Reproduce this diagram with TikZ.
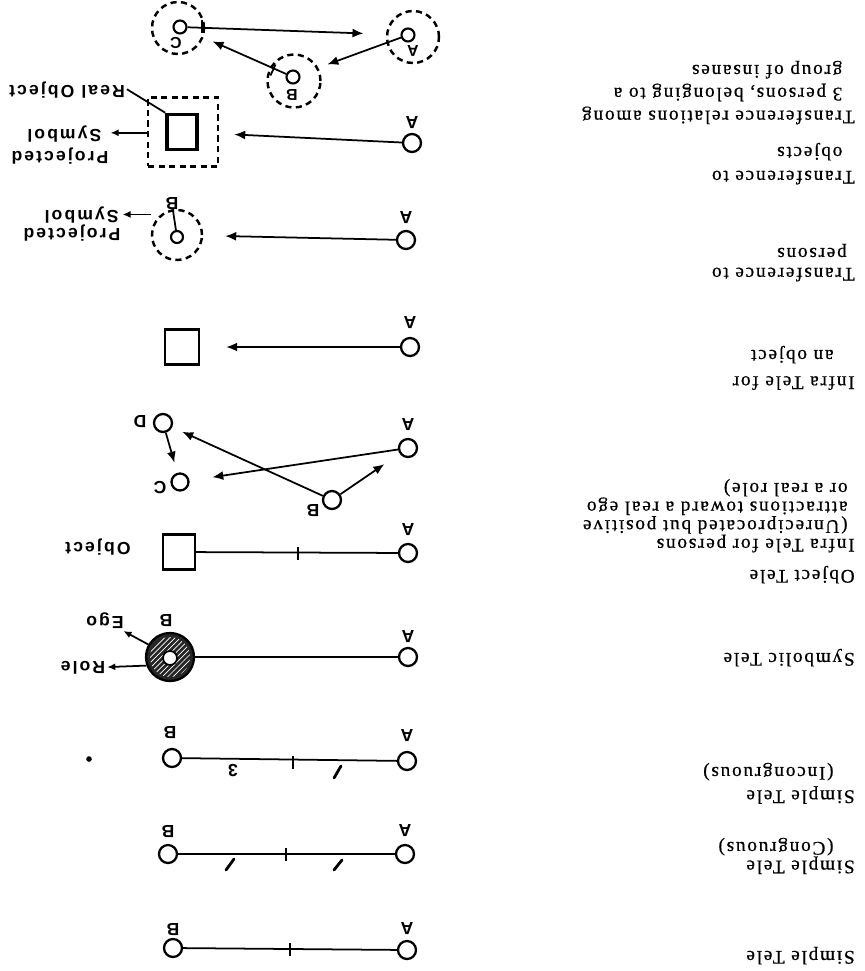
\documentclass[tikz,border=0pt]{standalone}
\usepackage{fontspec}
\usetikzlibrary{arrows.meta,patterns}
\newfontfamily\typeface[LetterSpace=9,FakeBold=0.6]{Liberation Serif}
\newfontfamily\handface[LetterSpace=12]{Liberation Sans}

\begin{document}
\begin{tikzpicture}[x=0.02cm,y=-0.02cm,
    person/.style={circle,draw,line width=1.3pt,minimum size=0.36cm,inner sep=0pt},
    inner/.style={circle,draw,line width=1.2pt,minimum size=0.26cm,inner sep=0pt},
    halo/.style={circle,draw,line width=1.4pt,dash pattern=on 3.5pt off 2.5pt,minimum size=1cm,inner sep=0pt},
    thing/.style={rectangle,draw,line width=1.4pt,inner sep=0pt},
    tele/.style={line width=1pt},
    arrow/.style={-{Latex[length=2.2mm,width=1.8mm]},line width=1pt},
    pointer/.style={-{Latex[length=1.6mm,width=1.4mm]},line width=1pt},
    stroke/.style={line width=1.6pt,line cap=round},
    caption/.style={rotate=180,anchor=base west,align=left,inner sep=0pt,
      font=\typeface\fontsize{11}{#1}\selectfont},
    caption/.default=11,
    who/.style={rotate=180,inner sep=0pt,font=\handface\bfseries\fontsize{10}{10}\selectfont},
    note/.style={rotate=180,inner sep=1pt,align=left,
      font=\handface\bfseries\fontsize{10}{#1}\selectfont},
    note/.default=10
  ]
  \useasboundingbox (0,0) rectangle (865,971);

  % simple tele
  \node[caption] (t1) at (855,951) {Simple Tele};
  \node[person] (a1) at (407,950) {};
  \node[person] (b1) at (173,948) {};
  \node[who] (la1) at (407,929) {A};
  \node[who] (lb1) at (173,930) {B};
  \draw[tele] (a1) -- (b1);
  \draw[tele] (290,943) -- (290,956);

  % simple tele, congruous
  \node[caption=10.6] (t2) at (855,842) {Simple Tele\\\hspace*{12pt}(Congruous)};
  \node[person] (a2) at (405,854) {};
  \node[person] (b2) at (168,854) {};
  \node[who] (la2) at (405,831) {A};
  \node[who] (lb2) at (168,832) {B};
  \draw[tele] (a2) -- (b2);
  \draw[tele] (286,848) -- (286,861);
  \draw[stroke] (226,870) -- (234,859);
  \draw[stroke] (334,870) -- (342,860);

  % simple tele, incongruous
  \node[caption=13.3] (t3) at (855,767) {Simple Tele\\\hspace*{12pt}(Incongruous)};
  \node[person] (a3) at (407,761) {};
  \node[person] (b3) at (172,758) {};
  \node[who] (la3) at (407,736) {A};
  \node[who] (lb3) at (170,733) {B};
  \draw[tele] (a3) -- (b3);
  \draw[tele] (293,756) -- (293,769);
  \node[who] (n3) at (233,771) {3};
  \draw[stroke] (334,778) -- (341,766);
  \fill (89,759) circle (1.6pt);

  % symbolic tele
  \node[caption] (t4) at (855,653) {Symbolic Tele};
  \node[person] (a4) at (408,657) {};
  \node[circle,draw,line width=1.3pt,fill=black!85,minimum size=0.96cm,inner sep=0pt] (b4) at (170,657) {};
  \fill[pattern=north east lines,pattern color=white] (b4.center) circle (0.4cm);
  \node[circle,draw,fill=white,line width=1pt,minimum size=0.28cm,inner sep=0pt] (i4) at (170,658) {};
  \node[who] (la4) at (408,637) {A};
  \node[who] (lb4) at (166,621) {B};
  \node[note] (lego) at (105,621) {Ego};
  \node[note] (lrole) at (83,668) {Role};
  \draw[tele] (a4) -- (b4);
  \draw[pointer] (b4.150) -- (lego);
  \draw[pointer] (b4.200) -- (lrole);

  % object tele
  \node[caption] (t5) at (855,570) {Object Tele};
  \node[person] (a5) at (408,553) {};
  \node[thing,minimum width=0.64cm,minimum height=0.7cm] (s5) at (179,552) {};
  \node[who] (la5) at (408,530) {A};
  \node[note] (lobj) at (98,547) {Object};
  \draw[tele] (a5) -- (s5);
  \draw[tele] (298,547) -- (298,560);

  % infra tele for persons
  \node[caption=10.6] (t6) at (855,483) {Infra Tele for persons\\
    \hspace*{4pt}(Unreciprocated but positive\\
    \hspace*{4pt}attractions toward a real ego\\
    \hspace*{4pt}or a real role)};
  \node[person] (a6) at (408,448) {};
  \node[person] (b6) at (332,500) {};
  \node[person,minimum size=0.34cm] (c6) at (180,482) {};
  \node[person] (d6) at (163,423) {};
  \node[who] (la6) at (408,425) {A};
  \node[who] (lb6) at (313,511) {B};
  \node[who] (lc6) at (160,488) {C};
  \node[who] (ld6) at (140,422) {D};
  \draw[arrow,shorten >=0.46cm] (a6) -- (c6);
  \draw[arrow,shorten >=0.22cm] (b6) -- (d6);
  \draw[arrow,shorten >=0.37cm] (b6) -- (a6);
  \draw[arrow,shorten >=0.21cm] (d6) -- (c6);

  % infra tele for an object
  \node[caption=15] (t7) at (855,350) {Infra Tele for\\\hspace*{12pt}an object};
  \node[person] (a7) at (410,347) {};
  \node[thing,minimum width=0.68cm,minimum height=0.7cm] (s7) at (182,347) {};
  \node[who] (la7) at (410,323) {A};
  \draw[arrow,shorten >=0.52cm] (a7) -- (s7);

  % transference to persons
  \node[caption=11.3] (t8) at (855,248) {Transference to\\\hspace*{4.5pt}persons};
  \node[person] (a8) at (406,240) {};
  \node[halo] (p8) at (177,235) {};
  \node[inner,minimum size=0.24cm] (i8) at (177,237) {};
  \node[who] (la8) at (406,218) {A};
  \node[who] (lb8) at (172,204) {B};
  \node[note=10] (lproj8) at (72,224) {Projected\\\hspace*{1pt}Symbol};
  \draw[arrow,shorten >=0.44cm] (a8) -- (p8);
  \draw[tele] (i8) -- (lb8);
  \draw[pointer] (p8.west |- lproj8.mid west) -- (lproj8.mid west);

  % transference to objects
  \node[caption=13.6] (t9) at (855,147) {Transference to\\\hspace*{7pt}objects};
  \node[person] (a9) at (412,143) {};
  \node[thing,dash pattern=on 3.5pt off 2.5pt,minimum width=1.4cm,minimum height=1.38cm] (q9) at (183,132) {};
  \node[thing,line width=2pt,minimum width=0.6cm,minimum height=0.7cm] (r9) at (182,132) {};
  \node[who] (la9) at (412,123) {A};
  \node[note=13] (lproj9) at (60,145) {Projected\\\hspace*{4pt}Symbol};
  \node[note] (lreal) at (67,90) {Real Object};
  \draw[arrow,shorten >=0.3cm] (a9) -- (q9);
  \draw[pointer] (q9.west |- lproj9.mid west) -- (lproj9.mid west);
  \draw[tele] (r9.north west) -- (lreal.mid west);

  % transference among a group of three
  \node[caption=13] (t10) at (855,65) {Transference relations among\\
    \hspace*{7pt}3 persons, belonging to a\\
    \hspace*{7pt}group of insanes};
  \node[halo,minimum size=1.04cm] (pa) at (413,37) {};
  \node[halo,minimum size=1.06cm] (pb) at (294,81) {};
  \node[halo,minimum size=1.04cm] (pc) at (178,28) {};
  \node[inner] (ia) at (408,35) {};
  \node[inner] (ib) at (293,77) {};
  \node[inner] (ic) at (180,27) {};
  \node[who,font=\handface\bfseries\fontsize{9}{9}\selectfont] (la10) at (413,51) {A};
  \node[who,font=\handface\bfseries\fontsize{9}{9}\selectfont] (lb10) at (292,95) {B};
  \node[who,font=\handface\bfseries\fontsize{9}{9}\selectfont] (lc10) at (176,43) {C};
  \draw[arrow,shorten >=0.74cm] (ic) -- (ia);
  \draw[arrow,shorten >=0.58cm] (ia) -- (ib);
  \draw[arrow,shorten >=0.56cm] (ib) -- (ic);
  \draw[tele] (202,20) -- (202,33);
  \draw[tele] (275.5,64.5) -- (270.5,75.5);
\end{tikzpicture}
\end{document}
